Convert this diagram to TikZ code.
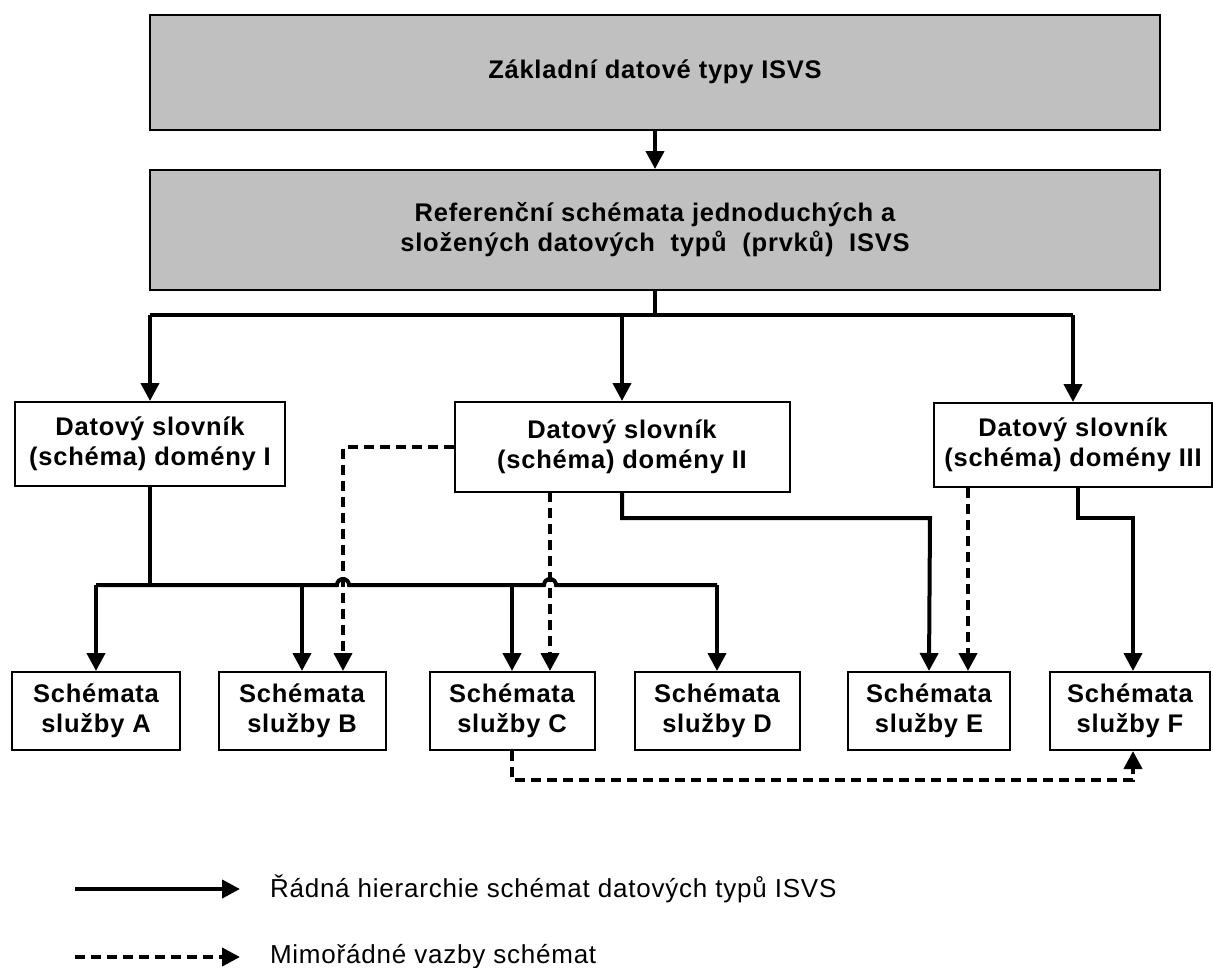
\documentclass[tikz,border=0pt]{standalone}
\usepackage{fontspec}
\setmainfont{Liberation Sans}[LetterSpace=3]
\usetikzlibrary{arrows.meta,positioning,calc}
\definecolor{isvsGray}{RGB}{192,192,192}
\tikzset{
    boxBase/.style={
        rectangle,
        draw,
        line width=2pt,
        align=center,
        inner sep=0pt,
        font=\bfseries\fontsize{25.5}{30}\selectfont
    },
    % Semantic Variants
    topBox/.style={boxBase, fill=isvsGray, minimum width=1010pt, minimum height=115pt},
    dictBox/.style={boxBase, fill=white, minimum height=84pt},
    schemaBox/.style={boxBase, fill=white, minimum height=78pt},
    % Arrows
    solidArr/.style={-{Triangle[length=18pt,width=18pt]}, line width=4pt},
    dashArr/.style={solidArr, dash pattern=on 10pt off 6pt},
    legendText/.style={font=\fontsize{26}{30}\selectfont, anchor=west, inner sep=0pt}
}
\begin{document}
\begin{tikzpicture}[x=1pt, y=-1pt]
\useasboundingbox (0,0) rectangle (1213,967);

\node[topBox] (base) at (655,72) {Základní datové typy ISVS};
\node[topBox, minimum height=120pt] (ref) at (655,230) {Referenční schémata jednoduchých a\\složených datových\ \ typů\ \ (prvků)\ \ ISVS};

\node[dictBox, minimum width=270pt] (domI) at (150,444) {Datový slovník\\(schéma) domény I};
\node[dictBox, minimum width=335pt, minimum height=90pt] (domII) at (622,447) {Datový slovník\\(schéma) domény II};
\node[dictBox, minimum width=278pt] (domIII) at (1073,445) {Datový slovník\\(schéma) domény III};

\node[schemaBox, minimum width=168pt] (svcA) at (96,711) {Schémata\\služby A};
\node[schemaBox, minimum width=167pt] (svcB) at (302,711) {Schémata\\služby B};
\node[schemaBox, minimum width=165pt] (svcC) at (512,711) {Schémata\\služby C};
\node[schemaBox, minimum width=165pt] (svcD) at (717,711) {Schémata\\služby D};
\node[schemaBox, minimum width=162pt] (svcE) at (929,711) {Schémata\\služby E};
\node[schemaBox, minimum width=160pt] (svcF) at (1130,711) {Schémata\\služby F};

\coordinate (splitTop) at (655,315);
\coordinate (busI) at (150,585);

% regular hierarchy
\draw[solidArr] (base) -- (ref);
\draw[line width=4pt] (ref.south) -- (splitTop);
\draw[line width=4pt] (domI.north |- splitTop) -- (domIII.north |- splitTop);
\draw[solidArr] (domI.north |- splitTop) -- (domI.north);
\draw[solidArr] (domII.north |- splitTop) -- (domII.north);
\draw[solidArr] (domIII.north |- splitTop) -- (domIII.north);

\draw[line width=4pt] (domI.south) -- (busI);
\draw[line width=4pt] (svcA.north |- busI) -- (337,585) arc[start angle=180, end angle=0, radius=6pt]
    -- (544,585) arc[start angle=180, end angle=0, radius=6pt] -- (svcD.north |- busI);
\draw[solidArr] (svcA.north |- busI) -- (svcA.north);
\draw[solidArr] (svcB.north |- busI) -- (svcB.north);
\draw[solidArr] (svcC.north |- busI) -- (svcC.north);
\draw[solidArr] (svcD.north |- busI) -- (svcD.north);

\draw[solidArr] (domII.south) |- (930,518) -- (svcE.north);
\draw[solidArr] ([xshift=5pt]domIII.south) |- (1133,518) -- ([xshift=3pt]svcF.north);

% extraordinary links
\draw[dashArr] (domII.west) -| ([xshift=41pt]svcB.north);
\draw[dashArr] (550,492) -- ([xshift=38pt]svcC.north);
\draw[dashArr] (968,488) -- ([xshift=39pt]svcE.north);
\draw[dashArr] (svcC.south) |- (1133,780) -- ([xshift=3pt]svcF.south);

% legend
\coordinate (legA) at (75,889);
\coordinate (legB) at (75,957);
\draw[solidArr] (legA) -- ++(165,0) node[legendText, right=28pt] (legSolid) {Řádná hierarchie schémat datových typů ISVS};
\draw[dashArr] (legB) -- ++(165,0) node[legendText, right=28pt] (legDash) {Mimořádné vazby schémat};
\end{tikzpicture}
\end{document}
